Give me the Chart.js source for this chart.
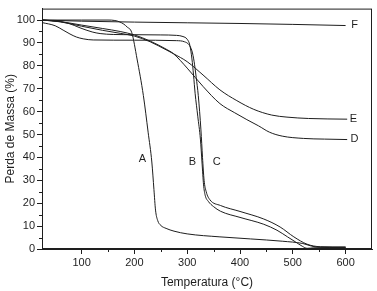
<!DOCTYPE html>
<html>
<head>
<meta charset="utf-8">
<script src="https://cdn.jsdelivr.net/npm/chart.js@4.4.1/dist/chart.umd.min.js"></script>
<style>
  html, body { margin: 0; padding: 0; background: #fff; }
  canvas { display: block; }
</style>
</head>
<body>
<canvas id="main-chart" width="377" height="291"></canvas>
<script>
// TGA curves: temperature (°C) vs mass (%)
const tempA = [25, 100, 150, 163, 172, 180, 186, 195, 205, 217, 226, 233, 237, 240, 244, 250, 260, 275, 300, 362, 420, 480, 519, 535, 550, 600];
const massA = [100, 100, 100, 99.8, 99.2, 98.2, 97, 94.5, 83, 67, 51, 38, 26, 17, 12.5, 10.3, 9, 7.8, 6.6, 5.3, 4.4, 3.4, 2.4, 1.3, 0.8, 0.7];

const tempB = [25, 50, 75, 97, 120, 135, 160, 200, 250, 280, 292, 300, 305, 309, 312, 315, 320, 325, 328, 331, 334, 340, 350, 363, 400, 445, 470, 490, 505, 518, 527, 540, 600];
const massB = [100, 99.6, 98.6, 96.6, 94.8, 94.1, 93.7, 93.6, 93.5, 93.3, 92.8, 91.6, 89, 83, 76, 68, 58, 48, 38, 28, 23.5, 20.8, 18.5, 16.5, 13.8, 10.8, 8.2, 5.3, 3.1, 1.2, 0.3, 0.5, 0.7];

const tempC = [25, 50, 65, 78, 90, 103, 122, 200, 280, 295, 303, 309, 313, 317, 321, 326, 329, 332, 336, 343, 363, 400, 445, 476, 502, 527, 552, 600];
const massC = [98.9, 97.5, 95.6, 93.9, 92.6, 91.8, 91.3, 91.2, 91.0, 90.5, 89.3, 86.5, 82, 75, 67, 52, 40, 30, 25, 21.5, 19, 16.4, 13.1, 9.6, 5.3, 2.1, 1.0, 0.9];

const tempD = [25, 60, 100, 140, 173, 200, 230, 260, 274, 300, 330, 362, 390, 413, 435, 456, 480, 520, 560, 603];
const massD = [100, 99.3, 97.8, 96.3, 95, 93.5, 90.8, 87.3, 85.3, 79, 71, 63.5, 59.5, 56.5, 53.8, 51, 49.3, 48.3, 48, 47.8];

const tempE = [25, 60, 100, 140, 173, 200, 230, 260, 274, 300, 330, 362, 394, 426, 460, 489, 530, 603];
const massE = [100, 99.2, 97.3, 95.5, 94.2, 93, 90.5, 87, 85.3, 81.8, 76, 69.5, 64.8, 61, 58.5, 57.6, 57, 56.7];

const tempF = [25, 100, 200, 300, 400, 500, 600];
const massF = [100, 99.5, 99.1, 98.8, 98.5, 98.1, 97.6];

// curve letters, anchored in data coordinates
const labelNames = ['A', 'B', 'C', 'D', 'E', 'F'];
const labelTemp  = [215, 310, 356, 617, 615, 617];
const labelMass  = [39.5, 38, 38, 48, 57, 98];

const ink = '#1e1e1e';
const pts = (xs, ys) => xs.map((x, i) => ({ x, y: ys[i] }));

function curve(label, xs, ys) {
  return {
    label,
    data: pts(xs, ys),
    borderColor: ink,
    backgroundColor: 'transparent',
    borderWidth: 1,
    pointRadius: 0,
    cubicInterpolationMode: 'monotone',
  };
}

const isMajor = (axis, v) => axis === 'x' ? v % 100 === 0 : (v % 10 === 0 && v <= 100);

const frameAndLabels = {
  id: 'frameAndLabels',
  afterDatasetsDraw(chart) {
    const { ctx, chartArea: a, scales } = chart;
    ctx.save();
    ctx.strokeStyle = ink;
    ctx.lineWidth = 1;
    ctx.strokeRect(a.left + 0.5, a.top + 0.5, a.right - a.left - 1, a.bottom - a.top - 1);

    // short minor ticks, outside the frame
    ctx.beginPath();
    scales.x.ticks.forEach(t => {
      if (isMajor('x', t.value) || t.value <= scales.x.min || t.value >= scales.x.max) return;
      const px = Math.round(scales.x.getPixelForValue(t.value)) + 0.5;
      ctx.moveTo(px, a.bottom); ctx.lineTo(px, a.bottom + 3);
    });
    scales.y.ticks.forEach(t => {
      if (isMajor('y', t.value) || t.value >= scales.y.max) return;
      const py = Math.round(scales.y.getPixelForValue(t.value)) + 0.5;
      ctx.moveTo(a.left, py); ctx.lineTo(a.left - 3, py);
    });
    ctx.stroke();

    ctx.fillStyle = ink;
    ctx.font = '11px Arial, "Liberation Sans", sans-serif';
    ctx.textAlign = 'center';
    ctx.textBaseline = 'middle';
    labelNames.forEach((n, i) => {
      ctx.fillText(n, scales.x.getPixelForValue(labelTemp[i]), scales.y.getPixelForValue(labelMass[i]));
    });
    ctx.restore();
  }
};

const tickFont = { family: 'Arial, "Liberation Sans", sans-serif', size: 11 };

new Chart(document.getElementById('main-chart'), {
  type: 'line',
  data: {
    datasets: [
      curve('A', tempA, massA),
      curve('B', tempB, massB),
      curve('C', tempC, massC),
      curve('D', tempD, massD),
      curve('E', tempE, massE),
      curve('F', tempF, massF),
    ]
  },
  options: {
    responsive: false,
    animation: false,
    events: [],
    layout: { padding: { top: 4, right: 5, left: 0, bottom: 0 } },
    plugins: { legend: { display: false }, tooltip: { enabled: false } },
    scales: {
      x: {
        type: 'linear',
        min: 25, max: 650,
        afterFit(s) { s.height = 42; },
        grid: {
          drawOnChartArea: false, tickLength: 5, color: ink,
          tickColor: c => (c.tick && isMajor('x', c.tick.value) ? ink : 'rgba(0,0,0,0)')
        },
        border: { color: ink, width: 1 },
        ticks: {
          stepSize: 50, autoSkip: false, maxRotation: 0, color: ink, font: tickFont, padding: 2,
          callback: v => (isMajor('x', v) ? v : '')
        },
        title: { display: true, text: 'Temperatura (°C)', color: ink, font: { ...tickFont, size: 12 }, padding: { top: 0, bottom: 1 } }
      },
      y: {
        type: 'linear',
        min: 0, max: 105,
        afterFit(s) { s.width = 42; },
        grid: {
          drawOnChartArea: false, tickLength: 5, color: ink,
          tickColor: c => (c.tick && isMajor('y', c.tick.value) ? ink : 'rgba(0,0,0,0)')
        },
        border: { color: ink, width: 1 },
        ticks: {
          stepSize: 5, autoSkip: false, color: ink, font: tickFont, padding: 2,
          callback: v => (isMajor('y', v) ? v : '')
        },
        title: { display: true, text: 'Perda de Massa (%)', color: ink, font: { ...tickFont, size: 12 }, padding: { top: 3, bottom: 0 } }
      }
    }
  },
  plugins: [frameAndLabels]
});
</script>
</body>
</html>
